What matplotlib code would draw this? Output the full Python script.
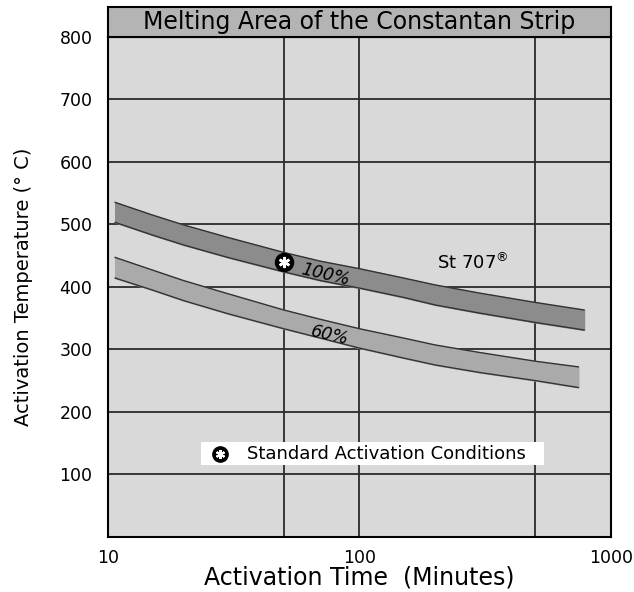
import matplotlib.pyplot as plt
from matplotlib.patches import Rectangle

plt.rcParams['font.family'] = ['DejaVu Sans']

# band edges
x_100 = [10.7, 15, 20, 30, 50, 70, 100, 150, 200, 300, 500, 780]
hi_100 = [535, 515, 499, 479, 455, 441, 429, 414, 403, 390, 375, 363]
lo_100 = [503, 483, 467, 447, 424, 410, 398, 383, 371, 358, 343, 331]

x_60 = [10.7, 15, 20, 30, 50, 70, 100, 150, 200, 300, 500, 740]
hi_60 = [447, 427, 410, 389, 363, 348, 333, 318, 307, 295, 281, 272]
lo_60 = [414, 395, 378, 357, 333, 318, 302, 286, 275, 263, 250, 239]

std_x, std_y = 50, 440
x_ticks = [10, 100, 1000]
x_grid = [50, 100, 500]
y_ticks = [100, 200, 300, 400, 500, 600, 700, 800]

fig = plt.figure(figsize=(6.34, 5.92), dpi=100)
ax = fig.add_axes([0.170, 0.093, 0.794, 0.845])
ax.set_facecolor('#d9d9d9')
ax.set_xscale('log')
ax.set_xlim(10, 1000)
ax.set_ylim(0, 800)

for v in x_grid:
    ax.axvline(v, color='#2a2a2a', lw=1.3, zorder=1)
for v in y_ticks[:-1]:
    ax.axhline(v, color='#2a2a2a', lw=1.3, zorder=1)

ax.fill_between(x_100, lo_100, hi_100, color='#8c8c8c', zorder=2)
ax.plot(x_100, hi_100, color='#333333', lw=1.0, zorder=3)
ax.plot(x_100, lo_100, color='#333333', lw=1.0, zorder=3)
ax.fill_between(x_60, lo_60, hi_60, color='#aaaaaa', zorder=2)
ax.plot(x_60, hi_60, color='#333333', lw=1.0, zorder=3)
ax.plot(x_60, lo_60, color='#333333', lw=1.0, zorder=3)

ax.plot(std_x, std_y, 'o', ms=13, color='black', zorder=5)
ax.plot(std_x, std_y, marker=(6, 2, 0), ms=8, mew=1.8, color='white', zorder=6)

ax.text(73, 419, '100%', rotation=-13, style='italic', fontsize=12.5,
        ha='center', va='center', zorder=6)
ax.text(76, 323, '60%', rotation=-13, style='italic', fontsize=12.5,
        ha='center', va='center', zorder=6)
ax.text(282, 439, 'St 707$^{®}$', fontsize=13, ha='center', va='center', zorder=6)

# legend box for the standard conditions
ax.add_patch(Rectangle((0.186, 0.143), 0.681, 0.047, transform=ax.transAxes,
                       facecolor='white', edgecolor='none', zorder=4))
ax.plot(0.223, 0.166, 'o', ms=11, color='black', transform=ax.transAxes, zorder=5)
ax.plot(0.223, 0.166, marker=(6, 2, 0), ms=6.5, mew=1.5, color='white',
        transform=ax.transAxes, zorder=6)
ax.text(0.277, 0.166, 'Standard Activation Conditions', fontsize=13,
        transform=ax.transAxes, va='center', ha='left', zorder=6)

ax.set_xticks(x_ticks)
ax.set_xticklabels([str(t) for t in x_ticks])
ax.set_xticks([], minor=True)
ax.set_yticks(y_ticks)
ax.tick_params(length=0, labelsize=12.5)
ax.tick_params(axis='x', pad=9)
ax.tick_params(axis='y', pad=11)
for s in ax.spines.values():
    s.set_linewidth(1.5)
ax.set_xlabel('Activation Time  (Minutes)', fontsize=17)
ax.xaxis.set_label_coords(0.5, -0.058)
ax.set_ylabel('Activation Temperature (° C)', fontsize=14, labelpad=19)

# title band
tax = fig.add_axes([0.170, 0.938, 0.794, 0.051])
tax.set_facecolor('#b4b4b4')
tax.set_xticks([])
tax.set_yticks([])
for s in tax.spines.values():
    s.set_linewidth(1.5)
tax.text(0.5, 0.5, 'Melting Area of the Constantan Strip', fontsize=17,
         ha='center', va='center', transform=tax.transAxes)

fig.savefig('out.png', dpi=100)
